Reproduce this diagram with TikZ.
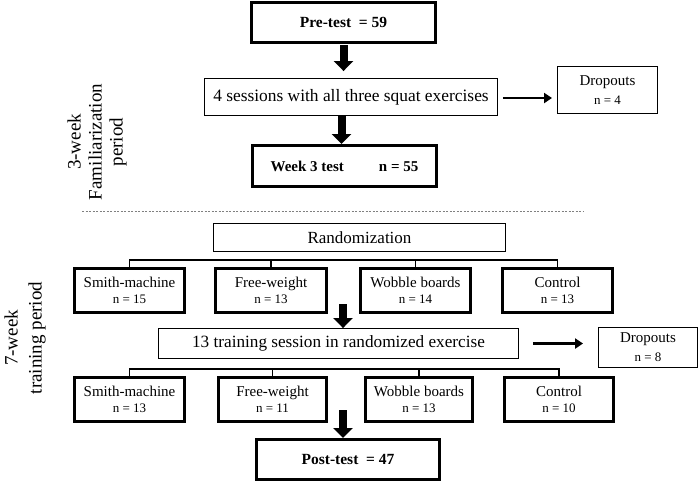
\documentclass[tikz,border=0pt]{standalone}
\usepackage{fontspec}
\setmainfont{Liberation Serif}
\usetikzlibrary{arrows.meta}
\newcommand{\grpn}[1]{{\fontsize{13}{13}\selectfont #1}}

\begin{document}
\begin{tikzpicture}[x=1pt,y=-1pt,
		thickbox/.style={draw, line width=3pt, inner sep=0pt, align=center},
		thinbox/.style={draw, line width=0.9pt, inner sep=0pt, align=center},
		grp/.style={thickbox, minimum height=44pt, font=\fontsize{15}{16}\selectfont},
		downarrow/.style={line width=8pt, -{Triangle[width=19pt,length=10pt]}},
		sidearrow/.style={line width=2.6pt, -{Triangle[width=10pt,length=8pt]}},
		bracket/.style={line width=1.4pt}]
				\useasboundingbox (0,0) rectangle (700,483);
				\node[thickbox, minimum width=184pt, minimum height=40pt, font=\bfseries\fontsize{15.5}{18}\selectfont] (pre) at (343.5,22.5) {Pre-test \ = 59};
				\node[thinbox, minimum width=293pt, minimum height=37pt, font=\fontsize{17.4}{20}\selectfont] (sess) at (351,97) {4 sessions with all three squat exercises};
				\node[thinbox, minimum width=100pt, minimum height=47pt, font=\fontsize{15}{19}\selectfont] (drop1) at (607.5,90) {Dropouts\\\grpn{n = 4}};
				\node[thickbox, minimum width=184pt, minimum height=41pt, font=\bfseries\fontsize{15}{18}\selectfont] (week3) at (344.5,166) {Week 3 test\hspace{35pt}n = 55};
				\node[rotate=90, align=center, font=\fontsize{19}{21}\selectfont] (fam) at (97,142) {3-week\\Familiarization\\period};
				\draw[gray, line width=0.8pt, dash pattern=on 2pt off 1.5pt] (82,211) -- (584,211);
				\node[thinbox, minimum width=292pt, minimum height=28pt, font=\fontsize{17}{20}\selectfont] (rand) at (359.5,237.5) {Randomization};
				\node[grp, minimum width=110pt] (sm1) at (129.5,290.5) {Smith-machine\\\grpn{n = 15}};
				\node[grp, minimum width=111pt] (fw1) at (271,290.5) {Free-weight\\\grpn{n = 13}};
				\node[grp, minimum width=110pt] (wb1) at (415.5,290.5) {Wobble boards\\\grpn{n = 14}};
				\node[grp, minimum width=110pt] (ct1) at (557.5,290.5) {Control\\\grpn{n = 13}};
				\node[rotate=90, align=center, font=\fontsize{19}{24}\selectfont] (trn) at (25,338) {7-week\\training period};
				\node[thinbox, minimum width=360pt, minimum height=30pt, font=\fontsize{17.2}{19}\selectfont] (train) at (338.5,343.5) {13 training session in randomized exercise};
				\node[thinbox, minimum width=99pt, minimum height=40pt, font=\fontsize{15}{19}\selectfont] (drop2) at (648,347.5) {Dropouts\\\grpn{n = 8}};
				\node[grp, minimum width=110pt] (sm2) at (129.5,399.5) {Smith-machine\\\grpn{n = 13}};
				\node[grp, minimum width=108pt] (fw2) at (272.5,399.5) {Free-weight\\\grpn{n = 11}};
				\node[grp, minimum width=107pt] (wb2) at (419,399.5) {Wobble boards\\\grpn{n = 13}};
				\node[grp, minimum width=109pt] (ct2) at (559,399.5) {Control\\\grpn{n = 10}};
				\node[thickbox, minimum width=183pt, minimum height=40pt, font=\bfseries\fontsize{15.5}{18}\selectfont] (post) at (348,459.5) {Post-test \ = 47};
				\draw[downarrow, shorten >=7pt] ([yshift=-1pt]pre.south) -- (pre.south |- sess.north);
				\draw[downarrow] ([xshift=-3pt]week3.north |- sess.south) -- ([xshift=-3pt]week3.north);
				\draw[sidearrow, shorten <=5pt, shorten >=5pt] ([yshift=-1pt]sess.east) -- ([yshift=-1pt]sess.east -| drop1.west);
				\draw[bracket] (sm1.north) -- ++(0,-7) -| (ct1.north);
				\draw[bracket] (fw1.north) -- ++(0,-7);
				\draw[bracket] (wb1.north) -- ++(0,-7);
				\coordinate (a3) at (343,304);
				\draw[downarrow] (a3) -- (a3 |- train.north);
				\draw[sidearrow, shorten <=14pt, shorten >=15pt] (train.east) -- (train.east -| drop2.west);
				\draw[bracket] (sm2.north) -- ++(0,-7) -| (ct2.north);
				\draw[bracket] (fw2.north) -- ++(0,-7);
				\draw[bracket] (wb2.north) -- ++(0,-7);
				\coordinate (a4) at (343,410);
				\draw[downarrow] (a4) -- (a4 |- post.north);
		\end{tikzpicture}
\end{document}
